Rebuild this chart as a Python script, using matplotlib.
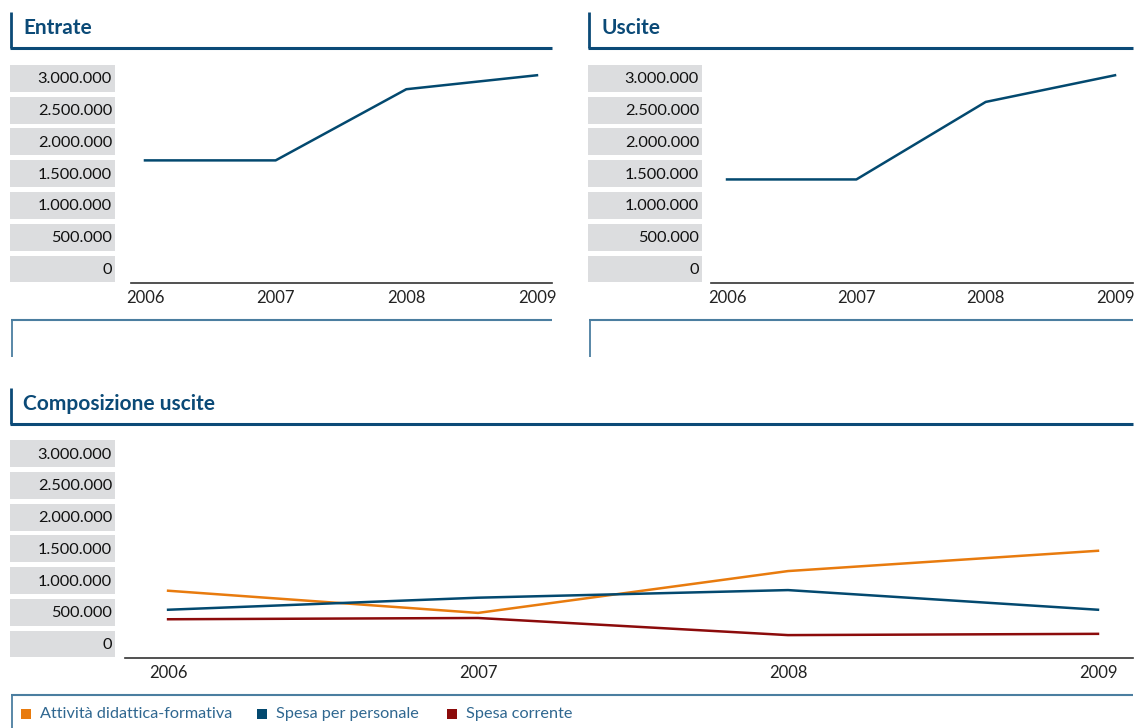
import matplotlib.pyplot as plt
from matplotlib.patches import Rectangle
from matplotlib.lines import Line2D
from matplotlib.transforms import blended_transform_factory

years = [2006, 2007, 2008, 2009]
yticks = [0, 500000, 1000000, 1500000, 2000000, 2500000, 3000000]

entrate = [1710000, 1710000, 2830000, 3050000]
uscite = [1410000, 1410000, 2630000, 3050000]

didattica = [840000, 490000, 1150000, 1470000]
personale = [540000, 730000, 850000, 540000]
corrente = [390000, 410000, 140000, 160000]

series_labels = ["Attività didattica-formativa", "Spesa per personale", "Spesa corrente"]

BLUE = "#03496F"
ORANGE = "#E87B0E"
RED = "#8C0B0B"
BOX = "#DCDDDF"
FRAME = "#0B4A77"
FRAME_LIGHT = "#4B7EA0"

W, H = 1134, 728
fig = plt.figure(figsize=(W / 100, H / 100), dpi=100)
plt.rcParams['font.family'] = ['Lato', 'DejaVu Sans']


def fx(x):
    return x / W


def fy(y):
    return 1 - y / H


def hline(x0, x1, y, color, lw):
    fig.add_artist(Line2D([fx(x0), fx(x1)], [fy(y), fy(y)], color=color, lw=lw,
                          transform=fig.transFigure, solid_capstyle="butt"))


def vline(x, y0, y1, color, lw):
    fig.add_artist(Line2D([fx(x), fx(x)], [fy(y0), fy(y1)], color=color, lw=lw,
                          transform=fig.transFigure, solid_capstyle="butt"))


def make_axes(left, right, top, bottom, xlim, ylim):
    ax = fig.add_axes([fx(left), fy(bottom), fx(right) - fx(left), fy(top) - fy(bottom)])
    ax.set_xlim(*xlim)
    ax.set_ylim(*ylim)
    for s in ["top", "right", "left"]:
        ax.spines[s].set_visible(False)
    ax.spines["bottom"].set_color("#333333")
    ax.spines["bottom"].set_linewidth(1.2)
    ax.set_yticks([])
    ax.set_xticks(years)
    ax.set_xticklabels([str(y) for y in years])
    ax.tick_params(axis="x", length=0, pad=5, labelsize=12, labelcolor="#222222")
    ax.patch.set_alpha(0)
    return ax


def value_boxes(ax, x0, x1):
    tr = blended_transform_factory(fig.transFigure, ax.transData)
    for v in yticks:
        ax.add_patch(Rectangle((fx(x0), v - 212000), fx(x1) - fx(x0), 424000,
                               transform=tr, facecolor=BOX, edgecolor="none", clip_on=False))
        ax.text(fx(x1 - 3), v - 15000, f"{v:,}".replace(",", "."), transform=tr, ha="right",
                va="center", fontsize=11.8, color="#111111")


def header(x0, x1, y_top, y_line, title):
    vline(x0 + 1, y_top, y_line, FRAME, 2)
    hline(x0, x1, y_line, FRAME, 2.2)
    fig.text(fx(x0 + 13), fy((y_top + y_line) / 2 - 2), title, fontsize=15,
             fontweight="bold", color=FRAME, va="center")


# top left: Entrate
header(10, 552, 12, 48, "Entrate")
ax1 = make_axes(131, 552, 60, 283, (2005.893, 2009.115), (-220000, 3290000))
value_boxes(ax1, 10, 115)
ax1.plot(years, entrate, color=BLUE, lw=1.8)
hline(11, 552, 320, FRAME_LIGHT, 1.5)
vline(11.5, 320, 357, FRAME_LIGHT, 1.3)

# top right: Uscite
header(588, 1133, 12, 48, "Uscite")
ax2 = make_axes(711, 1133, 60, 283, (2005.876, 2009.139), (-220000, 3290000))
value_boxes(ax2, 588, 702)
ax2.plot(years, uscite, color=BLUE, lw=1.8)
hline(589, 1133, 320, FRAME_LIGHT, 1.5)
vline(589.5, 320, 357, FRAME_LIGHT, 1.3)

# bottom: Composizione uscite
header(10, 1133, 388, 424, "Composizione uscite")
ax3 = make_axes(125, 1133, 436, 658, (2005.861, 2009.113), (-221000, 3280000))
value_boxes(ax3, 10, 115)
ax3.plot(years, didattica, color=ORANGE, lw=1.8)
ax3.plot(years, personale, color=BLUE, lw=1.8)
ax3.plot(years, corrente, color=RED, lw=1.8)

# legend strip
hline(11, 1133, 695, FRAME_LIGHT, 1.5)
vline(11.5, 695, 728, FRAME_LIGHT, 1.3)
legend_x = [21, 257, 447]
for x, lab, col in zip(legend_x, series_labels, [ORANGE, BLUE, RED]):
    fig.add_artist(Rectangle((fx(x), fy(719)), fx(10), 10 / H, facecolor=col,
                             edgecolor="none", transform=fig.transFigure))
    fig.text(fx(x + 19), fy(714), lab, fontsize=11.7,
             color="#2F6790", va="center")

fig.savefig("out.png", dpi=100)
